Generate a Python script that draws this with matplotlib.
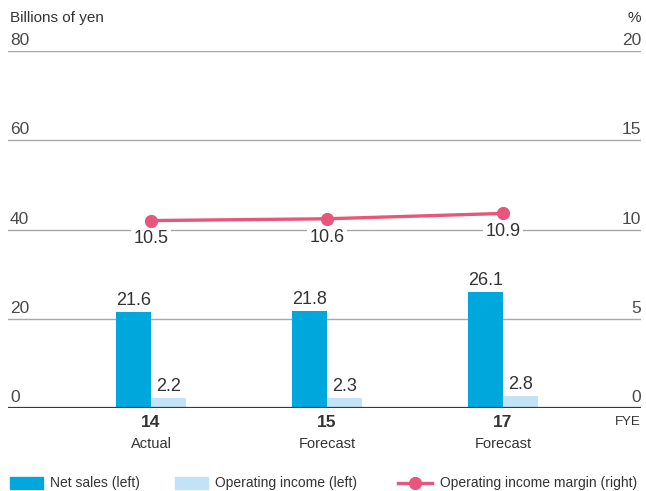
import matplotlib.pyplot as plt
from matplotlib.patches import Rectangle
from matplotlib.lines import Line2D

plt.rcParams['font.family'] = ['Liberation Sans', 'DejaVu Sans']

# data
years = ['14', '15', '17']
stages = ['Actual', 'Forecast', 'Forecast']
net_sales = [21.6, 21.8, 26.1]
op_income = [2.2, 2.3, 2.8]
op_margin = [10.5, 10.6, 10.9]
left_ticks = [0, 20, 40, 60, 80]
right_ticks = [0, 5, 10, 15, 20]

c_sales = '#00a7dd'
c_income = '#c0e3f5'
c_margin = '#e9567b'
c_text = '#333333'

W, H = 646, 491
fig = plt.figure(figsize=(W / 100, H / 100), dpi=100)

# axes placed in pixel terms: x from 8 to 641, y=0 at 408 px, y=80 at 51 px
ax = fig.add_axes([8 / W, (H - 408) / H, 633 / W, 357 / H])
ax.set_xlim(-0.8125, 2.784)
ax.set_ylim(0, 80)
ax.axis('off')

ax2 = ax.twinx()
ax2.set_ylim(0, 20)
ax2.axis('off')

x = list(range(len(years)))
bw = 0.199

# grid
for t in left_ticks[1:]:
    ax.axhline(t, color='#a8a8a8', lw=1.0, zorder=0)
ax.axhline(0, color='#3a3a3a', lw=1.6, zorder=3)

# tick labels sitting above the lines
for lt, rt in zip(left_ticks, right_ticks):
    ax.annotate(str(lt), (0, lt), xycoords=('axes fraction', 'data'),
                xytext=(1.5, 2), textcoords='offset points',
                ha='left', va='bottom', fontsize=12.5, color='#4a4a4a')
    ax.annotate(str(rt), (1, lt), xycoords=('axes fraction', 'data'),
                xytext=(0, 2), textcoords='offset points',
                ha='right', va='bottom', fontsize=12.5, color='#4a4a4a')

# bars
xs = [i - bw / 2 for i in x]
xi = [i + bw / 2 for i in x]
ax.bar(xs, net_sales, width=bw, color=c_sales, zorder=2)
ax.bar(xi, op_income, width=bw, color=c_income, zorder=2)
for a, v in zip(xs, net_sales):
    ax.annotate(f'{v:.1f}', (a, v), xytext=(0, 2), textcoords='offset points',
                ha='center', va='bottom', fontsize=13, color=c_text)
for a, v in zip(xi, op_income):
    ax.annotate(f'{v:.1f}', (a, v), xytext=(0, 2), textcoords='offset points',
                ha='center', va='bottom', fontsize=13, color=c_text)

# margin line
ax2.plot(x, op_margin, color=c_margin, lw=2.4, marker='o', ms=8.5, zorder=5)
for a, v in zip(x, op_margin):
    ax2.annotate(f'{v:.1f}', (a, v), xytext=(0, -7), textcoords='offset points',
                 ha='center', va='top', fontsize=13, color=c_text,
                 bbox=dict(boxstyle='square,pad=0.15', fc='white', ec='none'),
                 zorder=4)

# category labels
for a, yr, st in zip(x, years, stages):
    ax.annotate(yr, (a, 0), xytext=(0, -5), textcoords='offset points',
                ha='center', va='top', fontsize=12.5, fontweight='bold', color=c_text)
    ax.annotate(st, (a, 0), xytext=(0, -21), textcoords='offset points',
                ha='center', va='top', fontsize=10.5, color=c_text)
ax.annotate('FYE', (1, 0), xycoords=('axes fraction', 'data'), xytext=(0, -6),
            textcoords='offset points', ha='right', va='top', fontsize=9.5, color=c_text)

# axis titles
fig.text(10 / W, 1 - 18 / H, 'Billions of yen', ha='left', va='center',
         fontsize=11, color=c_text)
fig.text(641 / W, 1 - 18 / H, '%', ha='right', va='center', fontsize=11, color=c_text)

# legend
ly = 1 - 483 / H
fig.add_artist(Rectangle((10 / W, ly - 6 / H), 33 / W, 12 / H,
                         transform=fig.transFigure, color=c_sales))
fig.text(50 / W, ly, 'Net sales (left)', ha='left', va='center', fontsize=10, color=c_text)
fig.add_artist(Rectangle((175 / W, ly - 6 / H), 33 / W, 12 / H,
                         transform=fig.transFigure, color=c_income))
fig.text(215 / W, ly, 'Operating income (left)', ha='left', va='center', fontsize=10,
         color=c_text)
fig.add_artist(Line2D([398 / W, 432 / W], [ly, ly], transform=fig.transFigure,
                      color=c_margin, lw=2.4))
fig.add_artist(Line2D([415 / W], [ly], transform=fig.transFigure, color=c_margin,
                      marker='o', ms=8.5))
fig.text(440 / W, ly, 'Operating income margin (right)', ha='left', va='center',
         fontsize=10, color=c_text)

fig.savefig('out.png', dpi=100)
